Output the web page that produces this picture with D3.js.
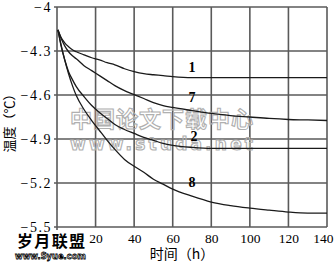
<html>
<script src='https://d3js.org/d3.v7.min.js'></script>
<style>
body {margin:0; background:#fff;}
.tick text {font-family:'Liberation Serif', serif; font-size:14px; fill:#000;}
.xax .tick text {font-size:13.5px;}
</style>
<body>
<svg width=334 height=264></svg>
<script>
// hours, shared by all four curves
var hours = [0.5, 2, 4, 6, 8, 10, 14, 18, 22, 26, 30, 35, 40, 45, 50, 55, 60, 70, 80, 90, 100, 110, 120, 130, 140];

var temp1 = [-4.156, -4.204, -4.244, -4.271, -4.292, -4.305, -4.326, -4.346, -4.360, -4.380, -4.394, -4.421, -4.441,
             -4.455, -4.462, -4.468, -4.475, -4.482, -4.482, -4.482, -4.482, -4.482, -4.482, -4.482, -4.482];
var temp7 = [-4.156, -4.210, -4.265, -4.305, -4.333, -4.353, -4.400, -4.434, -4.468, -4.502, -4.536, -4.570, -4.597,
             -4.624, -4.652, -4.672, -4.685, -4.706, -4.726, -4.740, -4.750, -4.760, -4.767, -4.770, -4.774];
var temp2 = [-4.156, -4.258, -4.360, -4.441, -4.495, -4.543, -4.611, -4.672, -4.719, -4.760, -4.801, -4.835, -4.862,
             -4.889, -4.909, -4.930, -4.943, -4.957, -4.964, -4.964, -4.964, -4.964, -4.964, -4.964, -4.964];
var temp8 = [-4.156, -4.251, -4.360, -4.455, -4.536, -4.604, -4.699, -4.774, -4.842, -4.909, -4.971, -5.039, -5.086,
             -5.127, -5.174, -5.208, -5.242, -5.290, -5.330, -5.354, -5.371, -5.385, -5.398, -5.405, -5.405];

var names = ["1", "7", "2", "8"];
var labelHour = [70, 70, 71, 70];
var labelTemp = [-4.41, -4.615, -4.88, -5.19];

var xTicks = [20, 40, 60, 80, 100, 120, 140];
var yTicks = [-4, -4.3, -4.6, -4.9, -5.2, -5.5];

var svg = d3.select("svg");

var x = d3.scaleLinear().domain([0, 140]).range([57, 327]);
var y = d3.scaleLinear().domain([-5.5, -4]).range([227, 7]);

// grid
svg.append("g")
.selectAll("line")
.data(xTicks)
.enter()
.append("line")
.attr("x1", d => x(d)).attr("x2", d => x(d))
.attr("y1", y(-4)).attr("y2", y(-5.5))
.attr("stroke", "#5a5a5a").attr("stroke-width", 1.6);

svg.append("g")
.selectAll("line")
.data(yTicks)
.enter()
.append("line")
.attr("x1", x(0) - 3).attr("x2", x(140))
.attr("y1", d => y(d)).attr("y2", d => y(d))
.attr("stroke", "#5a5a5a").attr("stroke-width", 1.6);

svg.append("line")
.attr("x1", x(0)).attr("x2", x(0))
.attr("y1", y(-4)).attr("y2", y(-5.5) + 3)
.attr("stroke", "#5a5a5a").attr("stroke-width", 1.6);

// axes (labels only)
var yAxis = d3.axisLeft(y).tickValues(yTicks).tickSize(0).tickPadding(4)
            .tickFormat(d => String(d).replace("-", "\u2212"));
svg.append("g")
.attr("transform", "translate(" + (x(0) - 1) + ",0)")
.call(yAxis)
.call(g => g.select(".domain").remove())
.selectAll("text").attr("letter-spacing", "1.5px");

var xAxis = d3.axisBottom(x).tickValues(xTicks).tickSize(0).tickPadding(6);
svg.append("g")
.attr("class", "xax")
.attr("transform", "translate(0," + y(-5.5) + ")")
.call(xAxis)
.call(g => g.select(".domain").remove())
.selectAll("text")
.attr("text-anchor", d => d == 140 ? "end" : "middle")
.attr("dx", d => d == 140 ? 6 : 0);

// watermark in the middle
svg.append("text")
.attr("x", 70).attr("y", 127)
.attr("textLength", 183).attr("lengthAdjust", "spacing")
.attr("font-family", "'Noto Sans CJK SC'").attr("font-weight", "bold").attr("font-size", 22)
.attr("fill", "none").attr("stroke", "#b0b0b0").attr("stroke-width", 1.1)
.text("中国论文下载中心");
svg.append("text")
.attr("x", 70).attr("y", 150)
.attr("textLength", 183).attr("lengthAdjust", "spacing")
.attr("font-family", "'DejaVu Sans'").attr("font-weight", "bold").attr("font-size", 17)
.attr("fill", "none").attr("stroke", "#b0b0b0").attr("stroke-width", 1.1)
.text("www.studa.net");

// curves
var series = [temp1, temp7, temp2, temp8];
var line = d3.line()
            .x((d, i) => x(hours[i]))
            .y(d => y(d))
            .curve(d3.curveMonotoneX);

svg.append("g")
.selectAll("path")
.data(series)
.enter()
.append("path")
.attr("d", d => line(d))
.attr("fill", "none")
.attr("stroke", "#1a1a1a")
.attr("stroke-width", 1.3);

svg.append("g")
.selectAll("text")
.data(names)
.enter()
.append("text")
.attr("x", (d, i) => x(labelHour[i]))
.attr("y", (d, i) => y(labelTemp[i]) + 5)
.attr("text-anchor", "middle")
.attr("font-family", "'Liberation Serif'").attr("font-weight", "bold").attr("font-size", 14)
.text(d => d);

// axis titles
svg.append("text")
.attr("transform", "translate(14,120) rotate(-90)")
.attr("text-anchor", "middle")
.attr("font-family", "'Noto Sans CJK SC'").attr("font-size", 13)
.text("温度（℃）");

svg.append("text")
.attr("x", 182).attr("y", 259)
.attr("text-anchor", "middle")
.attr("font-family", "'Noto Sans CJK SC'").attr("font-size", 14)
.text("时间（h）");

// watermark bottom left
svg.append("text")
.attr("x", 17).attr("y", 247)
.attr("textLength", 68).attr("lengthAdjust", "spacing")
.attr("font-family", "'Noto Sans CJK SC'").attr("font-weight", "bold").attr("font-size", 16)
.attr("fill", "#000").attr("stroke", "#fff").attr("stroke-width", 3).attr("paint-order", "stroke")
.text("岁月联盟");
svg.append("text")
.attr("x", 15).attr("y", 259)
.attr("textLength", 71).attr("lengthAdjust", "spacingAndGlyphs")
.attr("font-family", "'DejaVu Sans'").attr("font-weight", "bold").attr("font-size", 9)
.attr("fill", "#fff").attr("stroke", "#000").attr("stroke-width", 0.8)
.text("www.Syue.com");
</script>
</body>
</html>
